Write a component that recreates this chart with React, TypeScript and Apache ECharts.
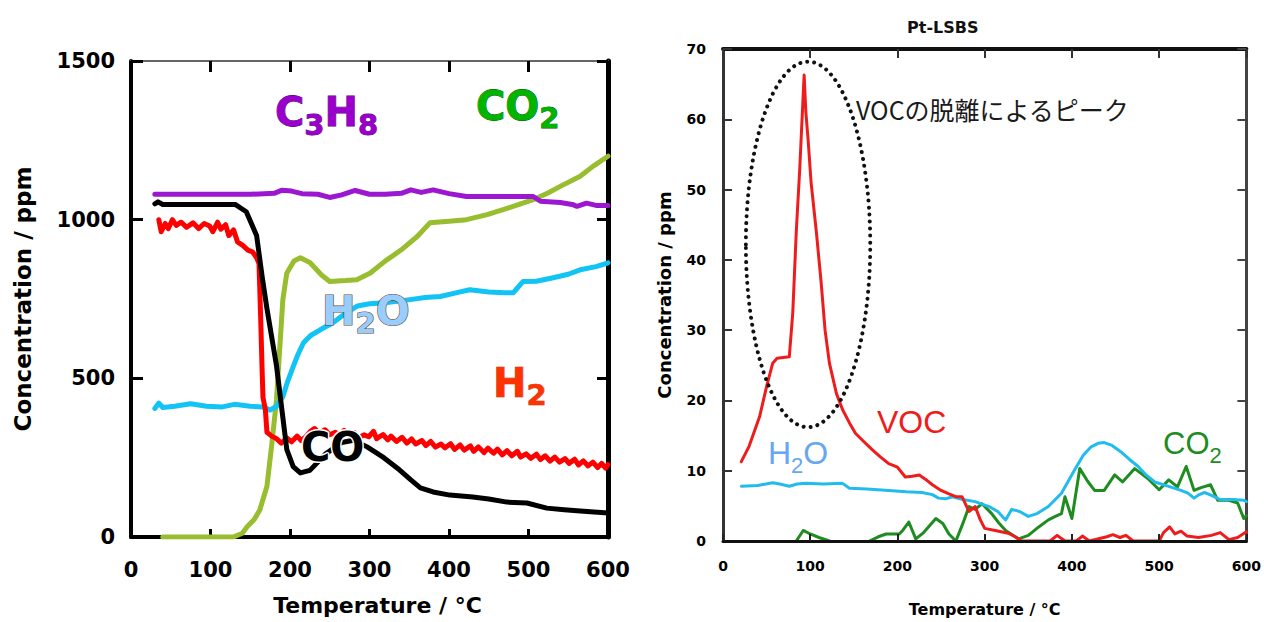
import React, { useEffect, useRef } from 'react';
import * as echarts from 'echarts';

// ---------- Left panel: C3H8 oxidation products (ppm vs °C) ----------
const propaneC3H8: number[][] = [
  [30, 1080], [60, 1080], [100, 1080], [150, 1080], [180, 1083], [190, 1093], [202, 1090], [215, 1082],
  [235, 1080], [250, 1070], [265, 1078], [282, 1092], [300, 1080], [320, 1080], [340, 1083], [352, 1094],
  [365, 1086], [380, 1094], [400, 1082], [422, 1073], [450, 1073], [480, 1073], [506, 1073], [515, 1058],
  [540, 1054], [555, 1048], [561, 1042], [573, 1052], [585, 1045], [600, 1045],
];

const carbonMonoxide: number[][] = [
  [30, 1050], [34, 1056], [40, 1048], [60, 1048], [100, 1048], [131, 1048], [145, 1025], [158, 950],
  [165, 820], [171, 720], [183, 540], [196, 275], [204, 222], [213, 202], [225, 210], [245, 262],
  [265, 298], [280, 305], [297, 284], [318, 250], [338, 211], [352, 180], [364, 155], [380, 142],
  [401, 132], [430, 126], [450, 120], [473, 110], [498, 107], [523, 91], [545, 86], [565, 82], [600, 76],
];

const carbonDioxideL: number[][] = [
  [40, 0], [80, 0], [129, 0], [140, 12], [146, 32], [155, 55], [162, 85], [171, 160], [177, 290],
  [183, 432], [191, 748], [196, 832], [205, 870], [213, 880], [225, 865], [240, 825], [250, 805],
  [270, 808], [284, 811], [301, 832], [320, 870], [340, 905], [360, 947], [376, 990], [400, 995],
  [422, 1000], [448, 1016], [470, 1033], [490, 1050], [506, 1063], [525, 1085], [540, 1105],
  [565, 1137], [581, 1168], [600, 1200],
];

const waterL: number[][] = [
  [30, 405], [35, 422], [40, 408], [55, 412], [75, 420], [95, 412], [115, 410], [130, 418], [150, 412],
  [165, 410], [175, 400], [183, 412], [191, 442], [197, 490], [204, 537], [210, 575], [217, 612],
  [226, 635], [238, 653], [254, 675], [270, 705], [285, 728], [300, 735], [320, 738], [351, 748],
  [370, 755], [389, 758], [410, 770], [426, 779], [450, 772], [470, 770], [481, 770], [493, 805],
  [510, 806], [531, 817], [550, 828], [565, 842], [585, 852], [600, 864],
];

const hydrogen: number[][] = [
  [35, 1000], [38, 962], [43, 988], [47, 972], [52, 1000], [57, 982], [63, 992], [70, 976], [78, 990],
  [85, 972], [92, 988], [99, 980], [103, 962], [109, 992], [113, 970], [119, 984], [123, 950], [129, 968],
  [134, 930], [141, 918], [147, 904], [153, 898], [158, 880], [161, 862], [163, 700], [165, 520],
  [166, 440], [169, 402], [171, 330], [177, 318], [183, 310], [189, 296], [196, 312], [202, 300],
  [209, 318], [214, 304], [220, 316], [226, 334], [231, 342], [237, 327], [244, 338], [250, 322],
  [257, 330], [263, 318], [268, 336], [275, 320], [281, 329], [286, 312], [293, 322], [299, 316],
  [305, 333], [309, 310], [317, 323], [323, 306], [327, 318], [334, 301], [341, 314], [347, 296],
  [353, 309], [358, 293], [366, 304], [371, 288], [377, 301], [383, 283], [390, 293], [395, 281],
  [402, 294], [407, 276], [414, 290], [419, 274], [427, 287], [431, 270], [437, 284], [444, 266],
  [449, 280], [456, 264], [461, 277], [467, 259], [473, 272], [479, 256], [486, 270], [490, 252],
  [497, 262], [503, 248], [510, 261], [515, 244], [521, 256], [527, 239], [533, 252], [539, 236],
  [546, 247], [551, 232], [558, 245], [563, 227], [569, 240], [575, 224], [581, 236], [587, 219],
  [592, 232], [597, 217], [600, 228],
];

// ---------- Right panel: Pt-LSBS desorption (ppm vs °C) ----------
const vocR: number[][] = [
  [21, 11.3], [30, 13.5], [42, 17.7], [50, 22], [57, 25.3], [62, 26], [76, 26.2], [80, 32.5], [84, 44],
  [88, 53], [91, 61], [93, 66.3], [95, 61], [97.5, 57.2], [101, 51], [107, 44], [112.5, 36.8],
  [117, 30], [122, 25.3], [130, 21], [137, 18.7], [145, 16.8], [152, 15.3], [161, 14.2], [171, 13],
  [180, 12], [190, 11], [200, 10.5], [209, 9.1], [217, 9.2], [225, 9.4], [232, 8.8], [240, 8],
  [250, 7.2], [259, 6.7], [267, 6.3], [274, 6.3], [282, 4.2], [289, 4.9], [295, 3], [300, 1.8],
  [312, 1.5], [327, 1.1], [335, 0.6], [342, 0], [375, 0], [383, 0.8], [392, 0], [405, 0], [412, 0.7],
  [420, 0], [440, 0.6], [447, 0.9], [455, 0.5], [462, 0.8], [470, 0], [500, 0], [505, 1.2], [512, 2],
  [518, 1.0], [525, 1.4], [532, 0.7], [545, 0.5], [560, 0.8], [570, 1.2], [580, 0.2], [590, 0.5],
  [600, 1.3],
];

const waterR: number[][] = [
  [21, 7.8], [40, 7.9], [57, 8.3], [65, 8.1], [76, 7.8], [85, 8.1], [95, 8.2], [115, 8.1], [137, 8.2],
  [145, 7.5], [165, 7.4], [190, 7.2], [210, 7.0], [228, 6.9], [240, 6.6], [247, 6.1], [255, 6.0],
  [263, 6.3], [275, 5.9], [289, 5.6], [305, 4.9], [315, 4.2], [324, 3.0], [331, 4.5], [340, 4.2],
  [350, 3.5], [360, 3.9], [373, 4.9], [388, 6.8], [403, 10.1], [413, 12.2], [422, 13.4], [430, 13.9],
  [437, 14], [446, 13.6], [456, 12.7], [466, 11.6], [476, 10.6], [485, 9.4], [495, 8.4], [510, 7.8],
  [525, 7.2], [533, 6.8], [540, 6.1], [546, 6.6], [552, 6.9], [560, 6.5], [570, 5.9], [585, 5.9],
  [597, 5.8], [600, 5.6],
];

const co2R: (number | string)[][] = [
  [84, 0], [92, 1.5], [100, 1.0], [110, 0.5], [122, 0], [145, '-'], [168, 0], [178, 0.6], [187, 1],
  [202, 1], [206, 1.5], [213, 2.7], [221, 0.3], [230, 1.2], [244, 3.2], [252, 2.5], [259, 1], [267, 0],
  [275, 2.5], [282, 4.9], [289, 4.5], [297, 5.3], [308, 3.9], [316, 2.6], [324, 1.5], [339, 0.3],
  [350, 0.8], [362, 2], [373, 3], [381, 3.5], [388, 3.9], [392, 6.3], [400, 3.2], [409, 10.3],
  [418, 8.5], [426, 7.2], [437, 7.2], [449, 9.4], [458, 8.4], [472, 10.3], [487, 8.9], [500, 7.3],
  [511, 8.7], [521, 7.7], [531, 10.6], [540, 7.2], [548, 7.6], [559, 8], [567, 5.8], [580, 5.8],
  [590, 5.4], [597, 3.2], [600, 3.6],
];

// desorption-peak ellipse, in data units of the right panel
const peakEllipse = { cx: 97.5, cy: 42.2, rx: 71.3, ry: 26 };

const BOLD = 'DejaVu Sans';
const SANS = 'Liberation Sans';

type Part = [string, boolean]; // [text, isSubscript]

const measureCtx = document.createElement('canvas').getContext('2d') as CanvasRenderingContext2D;
function textWidth(t: string, size: number, family: string, weight: string) {
  measureCtx.font = `${weight} ${size}px "${family}"`;
  return measureCtx.measureText(t).width;
}

// chemical formula: main glyphs centred on cy, subscripts lowered by `drop`
function formula(
  x: number, cy: number, parts: Part[], color: string, size: number, sub: number, drop: number,
  family: string, weight: string, stroke?: string, strokeW?: number,
) {
  let cx = x;
  const children = parts.map(([t, isSub]) => {
    const fs = isSub ? sub : size;
    const el: any = {
      type: 'text', x: cx, y: isSub ? cy + drop : cy, z: 50,
      style: {
        text: t, fontSize: fs, fontFamily: family, fontWeight: weight, fill: color,
        verticalAlign: 'middle', align: 'left',
      },
    };
    if (stroke) { el.style.stroke = stroke; el.style.lineWidth = strokeW; }
    cx += textWidth(t, fs, family, weight);
    return el;
  });
  return { type: 'group', children };
}

function lineSeries(name: string, data: any[], color: string, width: number, idx: number, z: number) {
  return {
    type: 'line', name, data, xAxisIndex: idx, yAxisIndex: idx, showSymbol: false, symbol: 'none',
    connectNulls: false, z,
    lineStyle: { color, width, join: 'round', cap: 'round' }, itemStyle: { color },
  };
}

const tickL = { fontFamily: BOLD, fontWeight: 'bold', fontSize: 21, color: '#000' };
const tickR = { fontFamily: BOLD, fontWeight: 'bold', fontSize: 14, color: '#000' };
const plain = (v: number) => String(v);

export default function App() {
  const ref = useRef<HTMLDivElement>(null);
  useEffect(() => {
    if (!ref.current) return;
    const chart = echarts.init(ref.current, undefined, { renderer: 'svg' });
    const option: any = {
      animation: false,
      backgroundColor: '#fff',
      title: {
        text: 'Pt-LSBS', left: 902, top: 14,
        textStyle: { fontFamily: BOLD, fontWeight: 'bold', fontSize: 16, color: '#111' },
      },
      grid: [
        { left: 131, top: 61, width: 477, height: 476 },
        { left: 723, top: 49, width: 526, height: 492 },
      ],
      xAxis: [
        {
          type: 'value', gridIndex: 0, position: 'bottom', min: 0, max: 600, interval: 100,
          axisLine: { onZero: false, lineStyle: { color: '#000', width: 4 } },
          axisTick: { inside: true, length: 8, lineStyle: { color: '#000', width: 3 } },
          axisLabel: { ...tickL, margin: 22, formatter: plain }, splitLine: { show: false },
          name: 'Temperature / °C', nameLocation: 'middle', nameGap: 57,
          nameTextStyle: { ...tickL, fontSize: 22, padding: [0, 0, 0, 16] },
        },
        {
          type: 'value', gridIndex: 0, position: 'top', min: 0, max: 600, interval: 100,
          axisLine: { onZero: false, lineStyle: { color: '#666', width: 2 } },
          axisTick: { inside: true, length: 11, lineStyle: { color: '#000', width: 3 } },
          axisLabel: { show: false }, splitLine: { show: false },
        },
        {
          type: 'value', gridIndex: 1, position: 'bottom', min: 0, max: 600, interval: 100, z: 5,
          axisLine: { onZero: false, lineStyle: { color: '#111', width: 3 } },
          axisTick: { inside: true, length: 7, lineStyle: { color: '#222', width: 2 } },
          axisLabel: { ...tickR, margin: 18, formatter: plain }, splitLine: { show: false },
          name: 'Temperature / °C', nameLocation: 'middle', nameGap: 60,
          nameTextStyle: { ...tickR, fontSize: 16 },
        },
        {
          type: 'value', gridIndex: 1, position: 'top', min: 0, max: 600, interval: 100,
          axisLine: { onZero: false, lineStyle: { color: '#111', width: 4 } },
          axisTick: { inside: true, length: 9, lineStyle: { color: '#333', width: 2 } },
          axisLabel: { show: false }, splitLine: { show: false },
        },
      ],
      yAxis: [
        {
          type: 'value', gridIndex: 0, position: 'left', min: 0, max: 1500, interval: 500,
          axisLine: { onZero: false, lineStyle: { color: '#000', width: 4 } },
          axisTick: { inside: true, length: 12, lineStyle: { color: '#000', width: 3 } },
          axisLabel: { ...tickL, margin: 16, formatter: plain }, splitLine: { show: false },
          name: 'Concentration / ppm', nameLocation: 'middle', nameGap: 97,
          nameTextStyle: { ...tickL, fontSize: 23 },
        },
        {
          type: 'value', gridIndex: 0, position: 'right', min: 0, max: 1500, interval: 500,
          axisLine: { onZero: false, lineStyle: { color: '#000', width: 5 } },
          axisTick: { inside: true, length: 11, lineStyle: { color: '#000', width: 3 } },
          axisLabel: { show: false }, splitLine: { show: false },
        },
        {
          type: 'value', gridIndex: 1, position: 'left', min: 0, max: 70, interval: 10,
          axisLine: { onZero: false, lineStyle: { color: '#333', width: 3 } },
          axisTick: { inside: true, length: 9, lineStyle: { color: '#333', width: 2 } },
          axisLabel: { ...tickR, margin: 17, formatter: plain }, splitLine: { show: false },
          name: 'Concentration / ppm', nameLocation: 'middle', nameGap: 50,
          nameTextStyle: { ...tickR, fontSize: 18 },
        },
        {
          type: 'value', gridIndex: 1, position: 'right', min: 0, max: 70, interval: 10,
          axisLine: { onZero: false, lineStyle: { color: '#444', width: 3 } },
          axisTick: { inside: true, length: 9, lineStyle: { color: '#444', width: 2 } },
          axisLabel: { show: false }, splitLine: { show: false },
        },
      ],
      series: [
        lineSeries('CO2', carbonDioxideL, '#98bd2e', 5, 0, 2),
        lineSeries('H2O', waterL, '#11c4f5', 5, 0, 3),
        lineSeries('H2', hydrogen, '#ff0000', 5, 0, 4),
        lineSeries('CO', carbonMonoxide, '#000000', 5, 0, 5),
        lineSeries('C3H8', propaneC3H8, '#9b17d0', 5, 0, 6),
        lineSeries('CO2', co2R, '#1e8c1e', 3, 2, 2),
        lineSeries('H2O', waterR, '#22bbee', 3, 2, 3),
        lineSeries('VOC', vocR, '#ee1c1c', 3, 2, 4),
      ],
    };
    chart.setOption(option);

    const c = chart.convertToPixel({ xAxisIndex: 2, yAxisIndex: 2 }, [peakEllipse.cx, peakEllipse.cy]) as number[];
    const e = chart.convertToPixel(
      { xAxisIndex: 2, yAxisIndex: 2 },
      [peakEllipse.cx + peakEllipse.rx, peakEllipse.cy - peakEllipse.ry],
    ) as number[];

    chart.setOption({
      graphic: [
        formula(275, 112, [['C', false], ['3', true], ['H', false], ['8', true]], '#9900cc', 40, 29, 13, BOLD, 'bold', '#4a0066', 0.8),
        formula(476, 106, [['C', false], ['O', false], ['2', true]], '#00b400', 40, 29, 12, BOLD, 'bold', '#055005', 0.8),
        formula(322, 311, [['H', false], ['2', true], ['O', false]], '#99ccff', 40, 29, 12, BOLD, 'bold', '#6b4e2a', 1.2),
        formula(493, 383, [['H', false], ['2', true]], '#ff3300', 40, 29, 12, BOLD, 'bold', '#992000', 0.6),
        formula(301, 447, [['CO', false]], '#000000', 40, 29, 12, BOLD, 'bold', '#ffffff', 3),
        formula(877, 422, [['VOC', false]], '#ee1c1c', 32, 22, 12, SANS, 'normal'),
        formula(768, 453, [['H', false], ['2', true], ['O', false]], '#66a6f2', 32, 22, 12, SANS, 'normal'),
        formula(1163, 443, [['CO', false], ['2', true]], '#1e8c1e', 31, 22, 12, SANS, 'normal'),
        {
          type: 'text', x: 856, y: 109, z: 50,
          style: {
            text: 'VOCの脱離によるピーク', fontFamily: 'Noto Sans CJK JP', fontSize: 25,
            fill: '#1a1a1a', verticalAlign: 'middle', align: 'left',
          },
        },
        {
          type: 'ellipse', z: 40,
          shape: { cx: c[0], cy: c[1], rx: e[0] - c[0], ry: e[1] - c[1] },
          style: { fill: 'none', stroke: '#111', lineWidth: 4, lineDash: [0.01, 7], lineCap: 'round' },
        },
      ],
    });
    return () => chart.dispose();
  }, []);
  return (
    <div
      ref={ref}
      style={{ position: 'fixed', left: 0, top: 0, width: 1264, height: 622, background: '#fff' }}
    />
  );
}
